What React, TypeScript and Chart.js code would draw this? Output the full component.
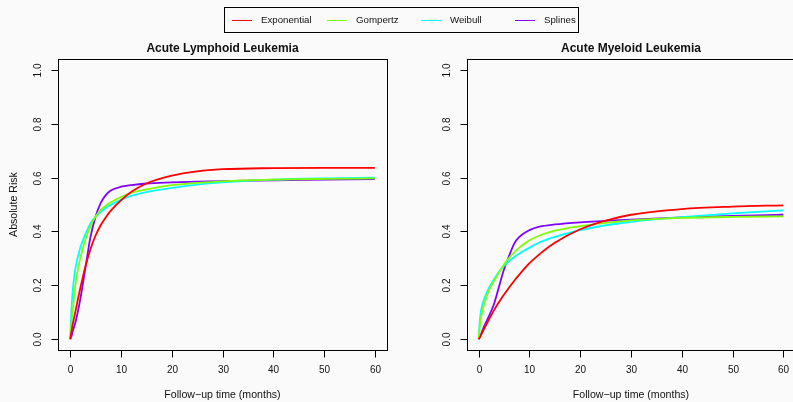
import React, { useEffect, useRef } from "react";
import Chart from "chart.js/auto";

const months = [0, 0.25, 0.5, 1, 2, 3, 4, 5, 6, 7, 8, 10, 12, 15, 20, 25, 30, 40, 50, 60];

const allExponential = [0, 0.027, 0.055, 0.1, 0.19, 0.27, 0.335, 0.385, 0.423, 0.452, 0.477, 0.515, 0.546, 0.578, 0.607, 0.623, 0.631, 0.635, 0.636, 0.636];
const allGompertz = [0, 0.06, 0.105, 0.2, 0.3, 0.37, 0.42, 0.455, 0.48, 0.495, 0.508, 0.528, 0.543, 0.556, 0.572, 0.58, 0.586, 0.592, 0.595, 0.597];
const allWeibull = [0, 0.11, 0.18, 0.26, 0.34, 0.39, 0.43, 0.455, 0.472, 0.487, 0.499, 0.517, 0.532, 0.546, 0.562, 0.574, 0.582, 0.592, 0.597, 0.6];
const allSplines = [0, 0.01, 0.03, 0.06, 0.15, 0.265, 0.38, 0.455, 0.505, 0.535, 0.552, 0.566, 0.572, 0.578, 0.582, 0.585, 0.587, 0.59, 0.592, 0.594];

const amlExponential = [0, 0.008, 0.017, 0.036, 0.072, 0.107, 0.138, 0.166, 0.192, 0.217, 0.24, 0.282, 0.316, 0.358, 0.408, 0.44, 0.462, 0.483, 0.492, 0.497];
const amlGompertz = [0, 0.055, 0.085, 0.125, 0.18, 0.215, 0.248, 0.278, 0.302, 0.322, 0.34, 0.367, 0.385, 0.403, 0.42, 0.432, 0.441, 0.45, 0.454, 0.456];
const amlWeibull = [0, 0.075, 0.11, 0.145, 0.19, 0.222, 0.25, 0.272, 0.29, 0.305, 0.318, 0.34, 0.36, 0.38, 0.405, 0.423, 0.436, 0.453, 0.467, 0.478];
const amlSplines = [0, 0.008, 0.02, 0.045, 0.085, 0.13, 0.195, 0.26, 0.31, 0.355, 0.38, 0.405, 0.418, 0.426, 0.434, 0.439, 0.444, 0.452, 0.458, 0.462];

const seriesNames = ["Exponential", "Gompertz", "Weibull", "Splines"];
const seriesColors = ["#FF0000", "#80FF00", "#00FFFF", "#8000FF"];
const xTicks = [0, 10, 20, 30, 40, 50, 60];
const yTicks = [0, 0.2, 0.4, 0.6, 0.8, 1.0];
const yTickLabels = ["0.0", "0.2", "0.4", "0.6", "0.8", "1.0"];

const FONT = '"Liberation Sans", Arial, Helvetica, sans-serif';
const BG = "#fafafa";

const rAxesPlugin = {
  id: "rAxes",
  afterDraw(chart: any) {
    const opts = chart.options.plugins.rAxes;
    const ctx = chart.ctx;
    const { left, right, top, bottom } = chart.chartArea;
    const xs = chart.scales.x;
    const ys = chart.scales.y;
    ctx.save();
    ctx.strokeStyle = "#000";
    ctx.lineWidth = 1;
    ctx.strokeRect(Math.round(left) + 0.5, Math.round(top) + 0.5, Math.round(right) - Math.round(left), Math.round(bottom) - Math.round(top));
    ctx.fillStyle = "#111";
    ctx.font = `10px ${FONT}`;
    ctx.textAlign = "center";
    ctx.textBaseline = "middle";
    const by = Math.round(bottom) + 0.5;
    xTicks.forEach((v) => {
      const px = Math.round(xs.getPixelForValue(v)) + 0.5;
      ctx.beginPath();
      ctx.moveTo(px, by);
      ctx.lineTo(px, by + 7);
      ctx.stroke();
      ctx.fillText(String(v), px, bottom + 20);
    });
    const lx = Math.round(left) + 0.5;
    yTicks.forEach((v, i) => {
      const py = Math.round(ys.getPixelForValue(v)) + 0.5;
      ctx.beginPath();
      ctx.moveTo(lx, py);
      ctx.lineTo(lx - 7, py);
      ctx.stroke();
      ctx.save();
      ctx.translate(left - 19.5, py);
      ctx.rotate(-Math.PI / 2);
      ctx.fillText(yTickLabels[i], 0, 0);
      ctx.restore();
    });
    ctx.font = `bold 12px ${FONT}`;
    ctx.fillText(opts.title, (left + right) / 2, top - 10);
    ctx.font = `10.6px ${FONT}`;
    ctx.fillText("Follow\u2212up time (months)", (left + right) / 2, bottom + 45.5);
    if (opts.yTitle) {
      ctx.save();
      ctx.translate(left - 44, (top + bottom) / 2);
      ctx.rotate(-Math.PI / 2);
      ctx.fillText(opts.yTitle, 0, 0);
      ctx.restore();
    }
    ctx.restore();
  },
};

function makeConfig(title: string, yTitle: string, values: number[][], padLeft: number, padRight: number) {
  return {
    type: "line" as const,
    data: {
      datasets: values.map((vals, i) => ({
        label: seriesNames[i],
        data: months.map((m, j) => ({ x: m, y: vals[j] })),
        borderColor: seriesColors[i],
        backgroundColor: seriesColors[i],
        borderWidth: 1.8,
        pointRadius: 0,
        cubicInterpolationMode: "monotone" as const,
        fill: false,
      })),
    },
    options: {
      responsive: false,
      animation: false as const,
      layout: { padding: { left: padLeft, right: padRight, top: 59, bottom: 52 } },
      scales: {
        x: { type: "linear" as const, min: -2.4, max: 62.4, display: false },
        y: { type: "linear" as const, min: -0.04, max: 1.04, display: false },
      },
      plugins: {
        legend: { display: false },
        tooltip: { enabled: false },
        rAxes: { title, yTitle },
      },
    },
    plugins: [rAxesPlugin],
  };
}

function Panel({ left, config }: { left: number; config: any }) {
  const ref = useRef<HTMLCanvasElement | null>(null);
  useEffect(() => {
    if (!ref.current) return;
    const chart = new Chart(ref.current, config);
    return () => chart.destroy();
  }, []);
  return (
    <canvas
      ref={ref}
      width={400}
      height={402}
      style={{ position: "absolute", left, top: 0, width: 400, height: 402 }}
    />
  );
}

const legendLineX = [7, 102, 196, 290];

export default function App() {
  const leftCfg = makeConfig("Acute Lymphoid Leukemia", "Absolute Risk", [allExponential, allGompertz, allWeibull, allSplines], 58, 13);
  const rightCfg = makeConfig("Acute Myeloid Leukemia", "", [amlExponential, amlGompertz, amlWeibull, amlSplines], 66.5, 4.5);
  return (
    <div style={{ position: "fixed", left: 0, top: 0, width: 793, height: 402, overflow: "hidden", background: BG }}>
      <Panel left={0} config={leftCfg} />
      <Panel left={400} config={rightCfg} />
      <div
        style={{
          position: "absolute",
          left: 224,
          top: 7,
          width: 355,
          height: 26,
          boxSizing: "border-box",
          border: "1px solid #000",
          fontFamily: FONT,
          fontSize: 9.7,
          color: "#111",
        }}
      >
        {seriesNames.map((name, i) => (
          <React.Fragment key={name}>
            <div
              style={{
                position: "absolute",
                left: legendLineX[i],
                top: 12,
                width: 20,
                height: 0,
                borderTop: `1.5px solid ${seriesColors[i]}`,
              }}
            />
            <div style={{ position: "absolute", left: legendLineX[i] + 29, top: 6, lineHeight: "12px", whiteSpace: "nowrap" }}>
              {name}
            </div>
          </React.Fragment>
        ))}
      </div>
    </div>
  );
}
